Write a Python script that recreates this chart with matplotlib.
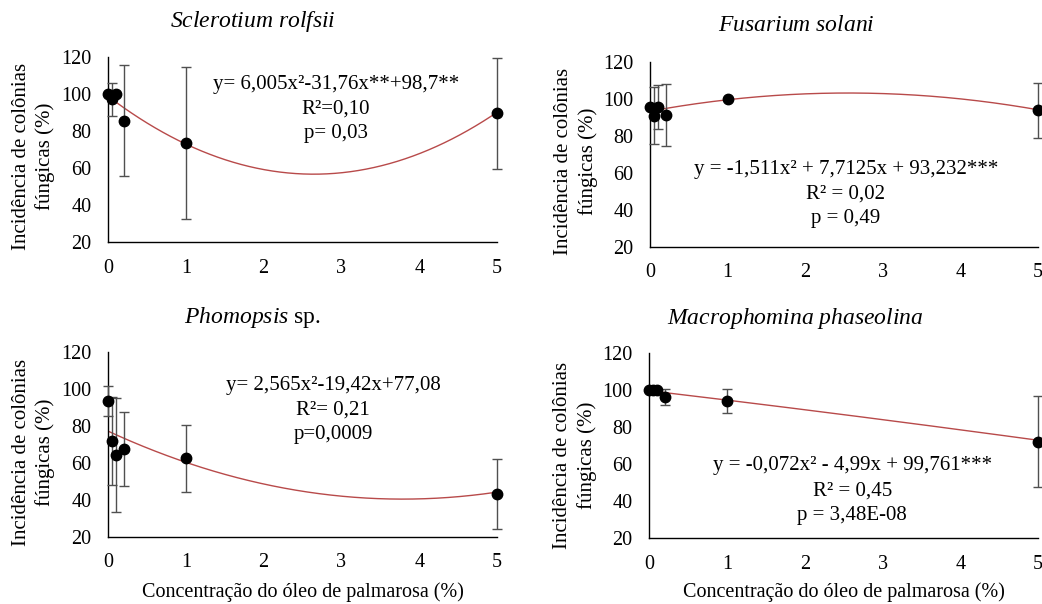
import matplotlib
matplotlib.use("Agg")
import matplotlib.pyplot as plt
import numpy as np

plt.rcParams['font.family'] = ['Liberation Serif', 'DejaVu Serif']
plt.rcParams['mathtext.fontset'] = 'custom'
plt.rcParams['mathtext.it'] = 'Liberation Serif:italic'
plt.rcParams['mathtext.rm'] = 'Liberation Serif'

# concentrations (%)
conc = [0, 0.05, 0.1, 0.2, 1, 5]

# Sclerotium rolfsii
scl_mean = [100, 97, 100, 85.5, 73.5, 89.5]
scl_err = [0, 8.8, 0, 30, 41, 30]
scl_coef = [6.005, -31.76, 98.7]

# Fusarium solani
fus_mean = [95.5, 90.8, 95.5, 91.2, 99.7, 93.8]
fus_err = [0, 15.5, 11.7, 16.5, 0, 14.8]
fus_coef = [-1.511, 7.7125, 93.232]

# Phomopsis sp.
pho_mean = [93.4, 71.7, 64.2, 67.4, 62.4, 43.1]
pho_err = [8, 24, 31, 20, 18, 19]
pho_coef = [2.565, -19.42, 77.08]

# Macrophomina phaseolina
mac_mean = [100, 100, 100, 96.5, 94.2, 72.2]
mac_err = [0, 0, 0, 4.4, 6.6, 24.6]
mac_coef = [-0.072, -4.99, 99.761]

titles = [r'$\mathit{Sclerotium\ rolfsii}$', r'$\mathit{Fusarium\ solani}$',
          r'$\mathit{Phomopsis}$ sp.', r'$\mathit{Macrophomina\ phaseolina}$']
equations = ["y= 6,005x²-31,76x**+98,7**\nR²=0,10\np= 0,03",
             "y = -1,511x² + 7,7125x + 93,232***\nR² = 0,02\np = 0,49",
             "y= 2,565x²-19,42x+77,08\nR²= 0,21\np=0,0009",
             "y = -0,072x² - 4,99x + 99,761***\nR² = 0,45\np = 3,48E-08"]
xlabel = "Concentração do óleo de palmarosa (%)"
ylabel = "Incidência de colônias\nfúngicas (%)"
yticks = [20, 40, 60, 80, 100, 120]
xticks = [0, 1, 2, 3, 4, 5]

W, H = 1042, 604
fig = plt.figure(figsize=(W / 100, H / 100), dpi=100)

def frac(l, r, t, b):
    return [l / W, 1 - b / H, (r - l) / W, (b - t) / H]

boxes = [frac(108, 497, 56.7, 242.3), frac(650, 1038, 61.7, 246.7),
         frac(108, 497, 351.7, 536.7), frac(649.3, 1038, 353.3, 538.3)]
means = [scl_mean, fus_mean, pho_mean, mac_mean]
errs = [scl_err, fus_err, pho_err, mac_err]
coefs = [scl_coef, fus_coef, pho_coef, mac_coef]
title_pos = [(0.3735, 1.189), (0.376, 1.198), (0.371, 1.186), (0.3755, 1.189)]
eq_pos = [(0.586, 0.717), (0.505, 0.285), (0.579, 0.685), (0.522, 0.258)]
ylab_pos = [(-0.1915, 0.465), (-0.191, 0.459), (-0.1915, 0.455), (-0.191, 0.45)]
xlab_y = [None, None, -0.297, -0.289]

for i in range(4):
    ax = fig.add_axes(boxes[i])
    xs = np.linspace(0, 5, 200)
    ys = np.polyval(coefs[i], xs)
    ax.plot(xs, ys, color='#b84a4a', lw=1.0, zorder=2)
    ax.errorbar(conc, means[i], yerr=errs[i], fmt='none', ecolor='#505050',
                elinewidth=1.0, capsize=3.5, capthick=1.0, zorder=3, clip_on=False)
    ax.plot(conc, means[i], 'o', color='black', ms=7.5, zorder=4, clip_on=False)
    ax.set_xlim(0, 5)
    ax.set_ylim(20, 120)
    ax.set_xticks(xticks)
    ax.set_yticks(yticks)
    ax.tick_params(length=0, labelsize=14.5, pad=12)
    for s in ['top', 'right']:
        ax.spines[s].set_visible(False)
    for s in ['left', 'bottom']:
        ax.spines[s].set_linewidth(1.0)
        ax.spines[s].set_color('black')
    ax.text(ylab_pos[i][0], ylab_pos[i][1], ylabel, transform=ax.transAxes,
            rotation=90, ha='center', va='center', fontsize=15,
            linespacing=1.3, multialignment='center')
    ax.text(title_pos[i][0], title_pos[i][1], titles[i], transform=ax.transAxes,
            ha='center', va='center', fontsize=17)
    ax.text(eq_pos[i][0], eq_pos[i][1], equations[i], transform=ax.transAxes,
            ha='center', va='center', fontsize=15, multialignment='center',
            linespacing=1.4)
    if xlab_y[i] is not None:
        ax.text(0.5, xlab_y[i], xlabel, transform=ax.transAxes,
                ha='center', va='center', fontsize=14.5)

fig.savefig('out.png', dpi=100)
